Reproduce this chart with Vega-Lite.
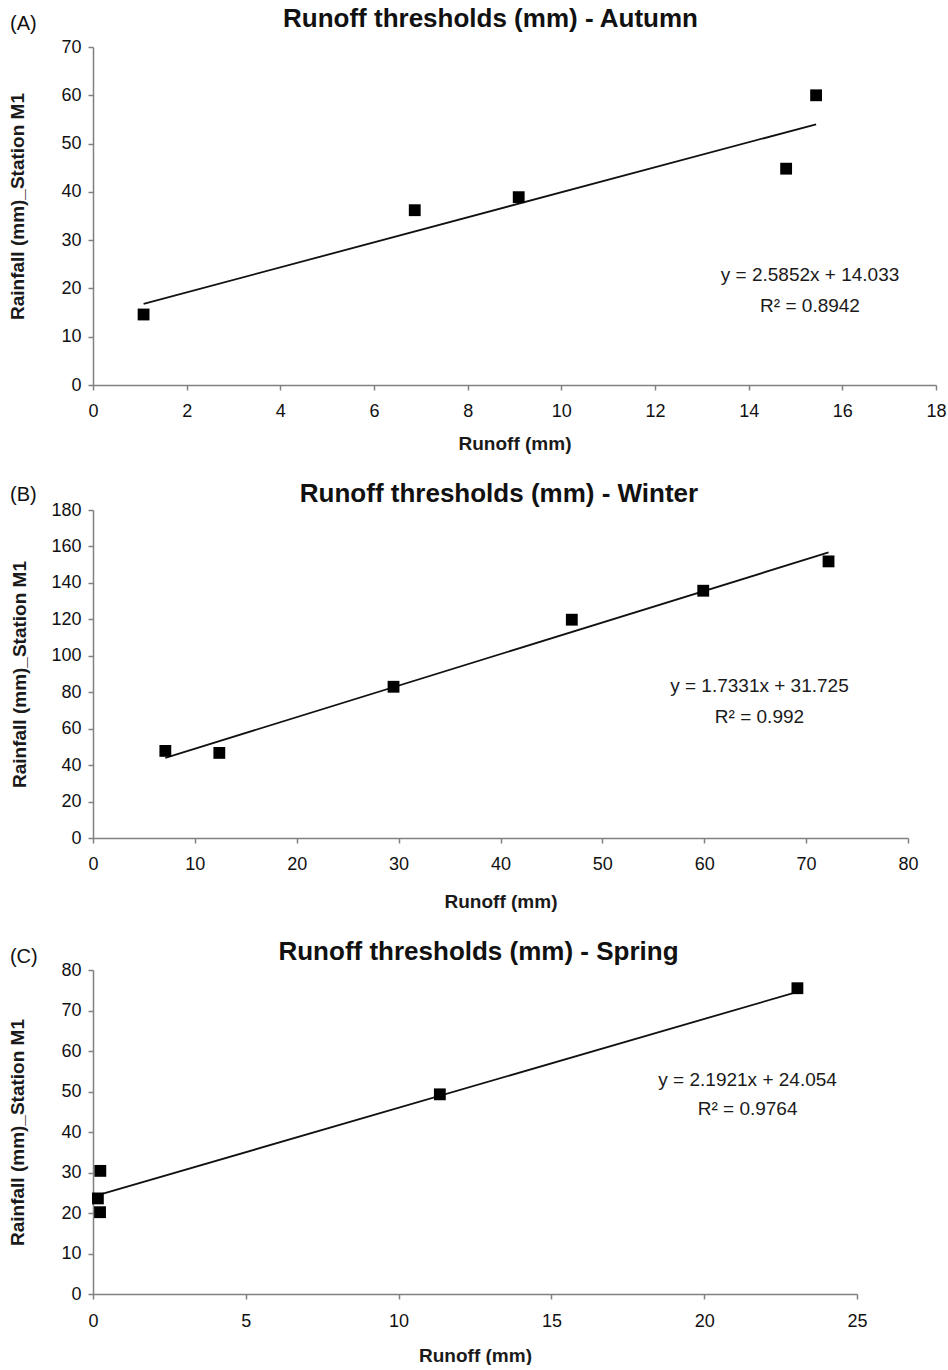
{
  "$schema": "https://vega.github.io/schema/vega-lite/v6.json",
  "padding": {"left": 8, "top": 5, "right": 0, "bottom": 0},
  "spacing": 28,
  "config": {
    "view": {"stroke": null},
    "font": "Liberation Sans",
    "axis": {
      "grid": false,
      "domainColor": "#808080",
      "tickColor": "#808080",
      "domainWidth": 1.5,
      "tickWidth": 1.5,
      "tickSize": 5,
      "labelFont": "Liberation Sans",
      "labelFontSize": 18,
      "labelColor": "#111111",
      "labelFlush": false,
      "labelOverlap": false,
      "titleFont": "Liberation Sans",
      "titleFontSize": 19,
      "titleFontWeight": "bold",
      "titleColor": "#1a1a1a"
    },
    "title": {"font": "Liberation Sans", "fontSize": 26, "fontWeight": "bold", "color": "#111111", "frame": "group", "anchor": "middle"}
  },
  "datasets": {
    "autumn": [
      {"runoff": 1.08, "rainfall": 14.6, "kind": "Observed"},
      {"runoff": 6.87, "rainfall": 36.2, "kind": "Observed"},
      {"runoff": 9.09, "rainfall": 38.9, "kind": "Observed"},
      {"runoff": 14.8, "rainfall": 44.8, "kind": "Observed"},
      {"runoff": 15.44, "rainfall": 60.0, "kind": "Observed"},
      {"runoff": 1.08, "rainfall": 16.8, "kind": "Trendline"},
      {"runoff": 15.44, "rainfall": 54.0, "kind": "Trendline"}
    ],
    "winter": [
      {"runoff": 7.1, "rainfall": 47.8, "kind": "Observed"},
      {"runoff": 12.4, "rainfall": 46.7, "kind": "Observed"},
      {"runoff": 29.5, "rainfall": 83.0, "kind": "Observed"},
      {"runoff": 47.0, "rainfall": 119.8, "kind": "Observed"},
      {"runoff": 59.9, "rainfall": 135.7, "kind": "Observed"},
      {"runoff": 72.2, "rainfall": 151.8, "kind": "Observed"},
      {"runoff": 7.1, "rainfall": 44.0, "kind": "Trendline"},
      {"runoff": 72.2, "rainfall": 156.7, "kind": "Trendline"}
    ],
    "spring": [
      {"runoff": 0.23, "rainfall": 20.2, "kind": "Observed"},
      {"runoff": 0.16, "rainfall": 23.6, "kind": "Observed"},
      {"runoff": 0.24, "rainfall": 30.4, "kind": "Observed"},
      {"runoff": 11.35, "rainfall": 49.3, "kind": "Observed"},
      {"runoff": 23.05, "rainfall": 75.5, "kind": "Observed"},
      {"runoff": 0.16, "rainfall": 24.4, "kind": "Trendline"},
      {"runoff": 23.05, "rainfall": 74.6, "kind": "Trendline"}
    ]
  },
  "vconcat": [
    {
      "width": 843,
      "height": 338,
      "title": {"text": "Runoff thresholds (mm) - Autumn", "offset": -18, "dx": -24},
      "layer": [
        {
          "data": {"name": "autumn"},
          "transform": [{"filter": "datum.kind === 'Trendline'"}],
          "mark": {"type": "line", "color": "#111111", "strokeWidth": 1.8},
          "encoding": {
            "x": {"field": "runoff", "type": "quantitative", "title": "Runoff (mm)", "scale": {"domain": [0, 18], "nice": false},
                  "axis": {"values": [0, 2, 4, 6, 8, 10, 12, 14, 16, 18], "tickCount": 12, "labelOverlap": false, "labelPadding": 12, "titlePadding": 14}},
            "y": {"field": "rainfall", "type": "quantitative", "title": "Rainfall (mm)_Station M1", "scale": {"domain": [0, 70], "nice": false},
                  "axis": {"values": [0, 10, 20, 30, 40, 50, 60, 70], "tickCount": 10, "labelOverlap": false, "labelPadding": 7, "titlePadding": 33, "titleY": 159}}
          }
        },
        {
          "data": {"name": "autumn"},
          "transform": [{"filter": "datum.kind === 'Observed'"}],
          "mark": {"type": "point", "shape": "square", "filled": true, "color": "#000000", "size": 140, "opacity": 1},
          "encoding": {
            "x": {"field": "runoff", "type": "quantitative"},
            "y": {"field": "rainfall", "type": "quantitative"}
          }
        },
        {
          "data": {"values": [{}]},
          "mark": {"type": "text", "text": "(A)", "align": "left", "baseline": "alphabetic", "fontSize": 20, "color": "#111111"},
          "encoding": {"x": {"datum": -1.77}, "y": {"datum": 73.6}}
        },
        {
          "data": {"values": [{}]},
          "mark": {"type": "text", "text": "y = 2.5852x + 14.033", "align": "center", "baseline": "middle", "fontSize": 19, "color": "#1a1a1a"},
          "encoding": {"x": {"datum": 15.31}, "y": {"datum": 22.78}}
        },
        {
          "data": {"values": [{}]},
          "mark": {"type": "text", "text": "R² = 0.8942", "align": "center", "baseline": "middle", "fontSize": 19, "color": "#1a1a1a"},
          "encoding": {"x": {"datum": 15.31}, "y": {"datum": 16.26}}
        }
      ]
    },
    {
      "width": 815,
      "height": 328,
      "title": {"text": "Runoff thresholds (mm) - Winter", "offset": -22, "dx": -1.5},
      "layer": [
        {
          "data": {"name": "winter"},
          "transform": [{"filter": "datum.kind === 'Trendline'"}],
          "mark": {"type": "line", "color": "#111111", "strokeWidth": 1.8},
          "encoding": {
            "x": {"field": "runoff", "type": "quantitative", "title": "Runoff (mm)", "scale": {"domain": [0, 80], "nice": false},
                  "axis": {"values": [0, 10, 20, 30, 40, 50, 60, 70, 80], "tickCount": 12, "labelOverlap": false, "labelPadding": 12, "titlePadding": 19}},
            "y": {"field": "rainfall", "type": "quantitative", "title": "Rainfall (mm)_Station M1", "scale": {"domain": [0, 180], "nice": false},
                  "axis": {"values": [0, 20, 40, 60, 80, 100, 120, 140, 160, 180], "tickCount": 12, "labelOverlap": false, "labelPadding": 7, "titlePadding": 21}}
          }
        },
        {
          "data": {"name": "winter"},
          "transform": [{"filter": "datum.kind === 'Observed'"}],
          "mark": {"type": "point", "shape": "square", "filled": true, "color": "#000000", "size": 140, "opacity": 1},
          "encoding": {
            "x": {"field": "runoff", "type": "quantitative"},
            "y": {"field": "rainfall", "type": "quantitative"}
          }
        },
        {
          "data": {"values": [{}]},
          "mark": {"type": "text", "text": "(B)", "align": "left", "baseline": "alphabetic", "fontSize": 20, "color": "#111111"},
          "encoding": {"x": {"datum": -8.15}, "y": {"datum": 184.8}}
        },
        {
          "data": {"values": [{}]},
          "mark": {"type": "text", "text": "y = 1.7331x + 31.725", "align": "center", "baseline": "middle", "fontSize": 19, "color": "#1a1a1a"},
          "encoding": {"x": {"datum": 65.42}, "y": {"datum": 83.4}}
        },
        {
          "data": {"values": [{}]},
          "mark": {"type": "text", "text": "R² = 0.992", "align": "center", "baseline": "middle", "fontSize": 19, "color": "#1a1a1a"},
          "encoding": {"x": {"datum": 65.42}, "y": {"datum": 66.4}}
        }
      ]
    },
    {
      "width": 764,
      "height": 324,
      "title": {"text": "Runoff thresholds (mm) - Spring", "offset": -18, "dx": 3.5},
      "layer": [
        {
          "data": {"name": "spring"},
          "transform": [{"filter": "datum.kind === 'Trendline'"}],
          "mark": {"type": "line", "color": "#111111", "strokeWidth": 1.8},
          "encoding": {
            "x": {"field": "runoff", "type": "quantitative", "title": "Runoff (mm)", "scale": {"domain": [0, 25], "nice": false},
                  "axis": {"values": [0, 5, 10, 15, 20, 25], "tickCount": 10, "labelOverlap": false, "labelPadding": 13, "titlePadding": 16}},
            "y": {"field": "rainfall", "type": "quantitative", "title": "Rainfall (mm)_Station M1", "scale": {"domain": [0, 80], "nice": false},
                  "axis": {"values": [0, 10, 20, 30, 40, 50, 60, 70, 80], "tickCount": 12, "labelOverlap": false, "labelPadding": 7, "titlePadding": 33}}
          }
        },
        {
          "data": {"name": "spring"},
          "transform": [{"filter": "datum.kind === 'Observed'"}],
          "mark": {"type": "point", "shape": "square", "filled": true, "color": "#000000", "size": 140, "opacity": 1},
          "encoding": {
            "x": {"field": "runoff", "type": "quantitative"},
            "y": {"field": "rainfall", "type": "quantitative"}
          }
        },
        {
          "data": {"values": [{}]},
          "mark": {"type": "text", "text": "(C)", "align": "left", "baseline": "alphabetic", "fontSize": 20, "color": "#111111"},
          "encoding": {"x": {"datum": -2.72}, "y": {"datum": 81.7}}
        },
        {
          "data": {"values": [{}]},
          "mark": {"type": "text", "text": "y = 2.1921x + 24.054", "align": "center", "baseline": "middle", "fontSize": 19, "color": "#1a1a1a"},
          "encoding": {"x": {"datum": 21.42}, "y": {"datum": 52.8}}
        },
        {
          "data": {"values": [{}]},
          "mark": {"type": "text", "text": "R² = 0.9764", "align": "center", "baseline": "middle", "fontSize": 19, "color": "#1a1a1a"},
          "encoding": {"x": {"datum": 21.42}, "y": {"datum": 45.7}}
        }
      ]
    }
  ]
}
